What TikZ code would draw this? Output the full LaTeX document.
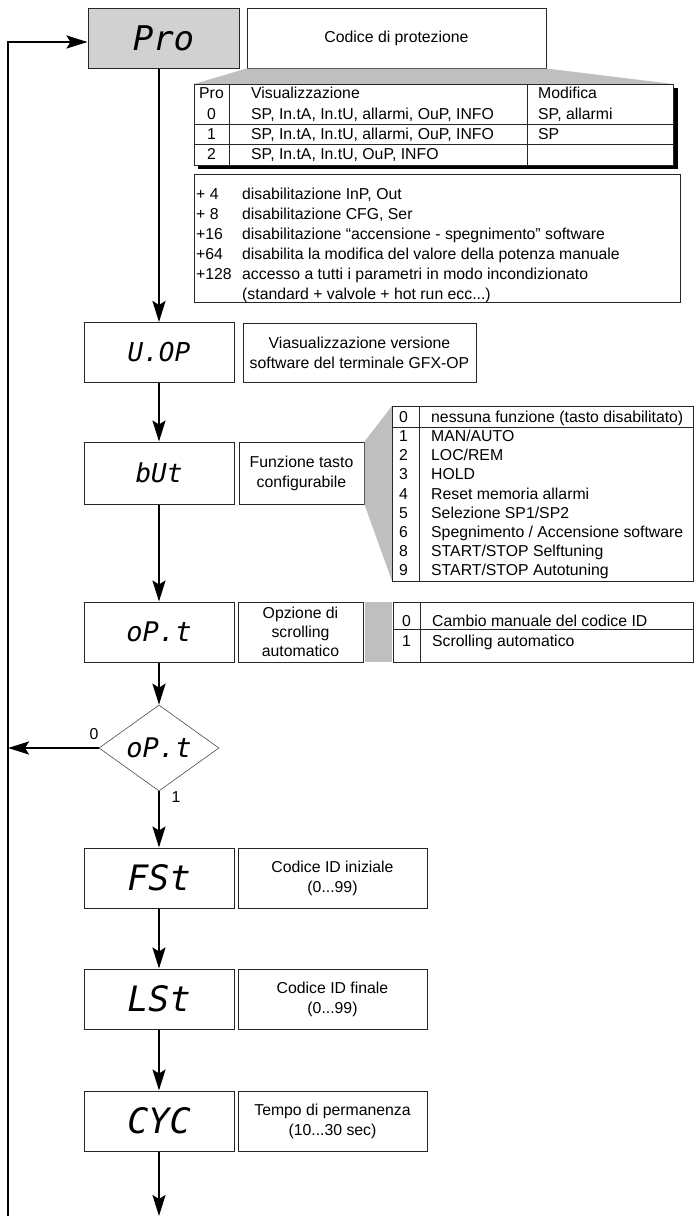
\documentclass[tikz,border=0pt]{standalone}
\usepackage{fontspec}
\setmainfont{Liberation Sans}
\newfontfamily\segfont{DejaVu Sans Mono}
\usetikzlibrary{arrows.meta,shapes.geometric}
\definecolor{boxgray}{gray}{0.82}
\definecolor{wedgegray}{gray}{0.75}
\begin{document}
\begin{tikzpicture}[x=1pt,y=-1pt,
  dispbox/.style={draw=black!85, line width=1pt, fill=white, minimum width=150pt, minimum height=60pt, inner sep=0pt, font=\segfont\itshape},
  descbox/.style={draw=black!85, line width=1pt, inner sep=0pt, align=center, font=\fontsize{15.8}{20}\selectfont},
  frame/.style={draw=black!85, line width=1pt, fill=white},
  tline/.style={draw=black!85, line width=1pt},
  flow/.style={line width=2.4pt, -{Stealth[length=21pt,width=13pt,inset=4pt]}},
  tabtxt/.style={inner sep=0pt, anchor=west, font=\fontsize{15.8}{19}\selectfont, text height=11.3pt, text depth=0pt},
  ctxt/.style={tabtxt, anchor=center}]
\useasboundingbox (0,0) rectangle (694,1216);

% ---- Pro ----
\node[dispbox, fill=boxgray, minimum width=151pt] (pro) at (163.5,38) {\fontsize{34}{34}\selectfont Pro};
\node[descbox, minimum width=299pt, minimum height=60pt] (cod) at (396.5,38) {Codice di protezione};
\fill[wedgegray] (cod.south west) -- (cod.south east) -- (673,84) -- (194,84) -- cycle;
\fill[black] (198,88) rectangle (678,169);
\node[frame, minimum width=479pt, minimum height=81pt, inner sep=0pt] (protab) at (433.5,124.5) {};
\draw[tline] (229,84) -- (229,165);
\draw[tline] (527,84) -- (527,165);
\draw[tline] (194,124) -- (673,124);
\draw[tline] (194,144) -- (673,144);
\node[ctxt] (h1) at (211.5,93) {Pro};
\node[tabtxt] (h2) at (251,93) {Visualizzazione};
\node[tabtxt] (h3) at (538,93) {Modifica};
\node[ctxt] (a1) at (211.5,114) {0};
\node[tabtxt] (a2) at (251,114) {SP, In.tA, In.tU, allarmi, OuP, INFO};
\node[tabtxt] (a3) at (538,114) {SP, allarmi};
\node[ctxt] (b1) at (211.5,134) {1};
\node[tabtxt] (b2) at (251,134) {SP, In.tA, In.tU, allarmi, OuP, INFO};
\node[tabtxt] (b3) at (538,134) {SP};
\node[ctxt] (c1) at (211.5,154) {2};
\node[tabtxt] (c2) at (251,154) {SP, In.tA, In.tU, OuP, INFO};

% notes
\node[frame, minimum width=486pt, minimum height=128pt, inner sep=0pt] (notes) at (437,238) {};
\node[tabtxt] (n1a) at (196,194) {+ 4};
\node[tabtxt] (n1b) at (242,194) {disabilitazione InP, Out};
\node[tabtxt] (n2a) at (196,214) {+ 8};
\node[tabtxt] (n2b) at (242,214) {disabilitazione CFG, Ser};
\node[tabtxt] (n3a) at (196,234) {+16};
\node[tabtxt] (n3b) at (242,234) {disabilitazione “accensione - spegnimento” software};
\node[tabtxt] (n4a) at (196,254) {+64};
\node[tabtxt] (n4b) at (242,254) {disabilita la modifica del valore della potenza manuale};
\node[tabtxt] (n5a) at (196,274) {+128};
\node[tabtxt] (n5b) at (242,274) {accesso a tutti i parametri in modo incondizionato};
\node[tabtxt] (n6b) at (242,294) {(standard + valvole + hot run ecc...)};

% ---- U.OP ----
\node[dispbox] (uop) at (159,352.5) {\fontsize{26}{26}\selectfont U.OP};
\node[descbox, minimum width=233pt, minimum height=59pt] (uopd) at (359.5,352.5) {Viasualizzazione versione\\software del terminale GFX-OP};

% ---- bUt ----
\node[dispbox, minimum height=62pt] (but) at (159,473) {\fontsize{26}{26}\selectfont bUt};
\node[descbox, minimum width=125pt, minimum height=62pt] (butd) at (301.5,473) {Funzione tasto\\configurabile};
\fill[wedgegray] (butd.north east) -- (392,406) -- (392,581) -- (butd.south east) -- cycle;
\node[frame, minimum width=301pt, minimum height=175pt, inner sep=0pt] (buttab) at (542.5,493.5) {};
\draw[tline] (419,406) -- (419,581);
\draw[tline] (392,427) -- (693,427);
\foreach \n/\t [count=\k from 0] in {0/nessuna funzione (tasto disabilitato),1/MAN{/}AUTO,2/LOC{/}REM,3/HOLD,4/Reset memoria allarmi,5/Selezione SP1{/}SP2,6/Spegnimento {/} Accensione software,8/START{/}STOP Selftuning,9/START{/}STOP Autotuning}{
  \node[tabtxt] (bn\k) at (399,417+19.1*\k) {\n};
  \node[tabtxt] (bt\k) at (431,417+19.1*\k) {\t};
}

% ---- oP.t ----
\node[dispbox] (opt) at (159,632) {\fontsize{27}{27}\selectfont oP.t};
\node[descbox, minimum width=125pt, minimum height=60pt, font=\fontsize{15.8}{19}\selectfont] (optd) at (300.5,632) {Opzione di\\scrolling\\automatico};
\fill[wedgegray] (365,602) rectangle (392,662);
\node[frame, minimum width=300pt, minimum height=60pt, inner sep=0pt] (opttab) at (543,632) {};
\draw[tline] (420,602) -- (420,662);
\draw[tline] (393,629) -- (693,629);
\node[tabtxt] (o0) at (402,621) {0};
\node[tabtxt] (o0t) at (432,621) {Cambio manuale del codice ID};
\node[tabtxt] (o1) at (402,641) {1};
\node[tabtxt] (o1t) at (432,641) {Scrolling automatico};

% ---- decision ----
\node[diamond, draw=black!70, line width=0.6pt, minimum width=120pt, minimum height=86pt, inner sep=0pt, aspect=1.4, font=\segfont\itshape\fontsize{27}{27}\selectfont] (dec) at (159,748) {oP.t};

% ---- FSt, LSt, CyC ----
\node[dispbox] (fst) at (159,878) {\fontsize{35}{35}\selectfont FSt};
\node[descbox, minimum width=189pt, minimum height=60pt] (fstd) at (332.5,878) {Codice ID iniziale\\(0...99)};
\node[dispbox] (lst) at (159,999) {\fontsize{35}{35}\selectfont LSt};
\node[descbox, minimum width=189pt, minimum height=60pt] (lstd) at (332.5,999) {Codice ID finale\\(0...99)};
\node[dispbox] (cyc) at (159,1121) {\fontsize{35}{35}\selectfont CYC};
\node[descbox, minimum width=189pt, minimum height=60pt] (cycd) at (332.5,1121) {Tempo di permanenza\\(10...30 sec)};

% ---- connectors ----
\coordinate (loopbot) at (8,1216);
\coordinate (looptop) at (8,42);
\coordinate (endbot) at (159,1216);
\draw[flow] (loopbot) -- (looptop) -- (looptop -| pro.west);
\draw[flow] (pro.south -| uop.north) -- (uop.north);
\draw[flow] (uop.south) -- (but.north);
\draw[flow] (but.south) -- (opt.north);
\draw[flow] (opt.south) -- (dec.north);
\draw[flow] (dec.west) -- (dec.west -| loopbot);
\node[ctxt] (lab0) at (94,734) {0};
\draw[flow] (dec.south) -- (fst.north);
\node[ctxt] (lab1) at (176,797) {1};
\draw[flow] (fst.south) -- (lst.north);
\draw[flow] (lst.south) -- (cyc.north);
\draw[flow] (cyc.south) -- (endbot);
\end{tikzpicture}
\end{document}
